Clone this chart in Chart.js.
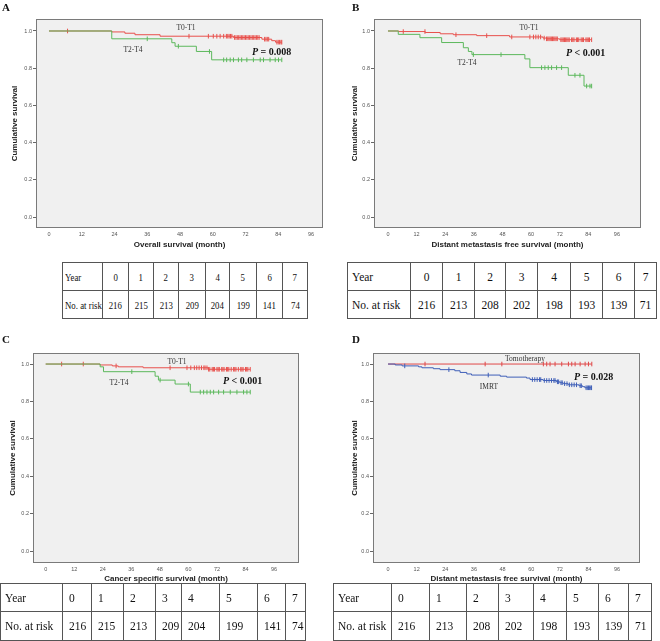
<!DOCTYPE html>
<html><head><meta charset="utf-8">
<script src="https://cdn.jsdelivr.net/npm/chart.js@4.4.1/dist/chart.umd.min.js"></script>
<style>
html,body{margin:0;padding:0;background:#fff;}
body{width:660px;height:641px;position:relative;overflow:hidden;font-family:"Liberation Serif","Times New Roman",serif;}
canvas{position:absolute;}
.lbl{position:absolute;white-space:nowrap;line-height:1;}
.letter{font-weight:bold;font-size:11px;color:#111;}
.grp{font-size:7.5px;color:#333;transform:translate(-50%,-50%);}
.pval{font-size:10px;font-weight:bold;color:#111;transform:translateY(-50%);}
table.risk{position:absolute;border-collapse:collapse;table-layout:fixed;font-size:11.5px;color:#111;}
table.risk td{border:1px solid #555;padding:0;white-space:nowrap;overflow:hidden;}
table.risk td span{display:inline-block;}
table.risk td.h{padding-left:4px;text-align:left;}
table.risk.ctr td.v{text-align:center;}
table.risk.lft td.v{text-align:left;padding-left:6px;}
table.risk.cmp{font-size:11px;}
table.risk.cmp td.h{padding-left:2px;}
table.risk.cmp td span{transform:scaleX(0.8);}
table.risk.cmp td.h span{transform-origin:left center;}
table.risk.cmp td.v span{transform-origin:center center;}
</style></head><body>
<script>
// ---------- data ----------
const monthTicks = [0, 12, 24, 36, 48, 60, 72, 84, 96];
const survTicks = [0, 0.2, 0.4, 0.6, 0.8, 1.0];
const yearLabels = ['0', '1', '2', '3', '4', '5', '6', '7'];

// Panel A – overall survival
const aLowTime = [0, 23, 27.8, 31.5, 40.7, 67.6, 78, 81.6, 83, 85.3];
const aLowSurv = [1, 0.995, 0.988, 0.98, 0.972, 0.965, 0.956, 0.948, 0.94, 0.94];
const aLowCens = [6.8, 51.3, 58.4, 60.2, 61.5, 62.7, 64, 65, 65.5, 66, 66.5, 67, 68, 68.5, 69, 69.5, 70, 70.5, 71, 71.5, 72, 72.5, 73, 73.5, 74, 74.5, 75, 75.5, 76, 76.5, 77, 79, 79.5, 80, 80.5, 83.5, 84, 84.5, 85, 85.3];
const aHighTime = [0, 23, 45, 46.2, 54, 59.6, 85.3];
const aHighSurv = [1, 0.958, 0.937, 0.918, 0.89, 0.845, 0.845];
const aHighCens = [36, 47.4, 58.8, 64, 65.1, 66.4, 67.6, 69.4, 70.6, 72.5, 74.9, 77.4, 78.6, 81, 82.9, 84.1, 85.3];
const aRisk = [216, 215, 213, 209, 204, 199, 141, 74];

// Panel B – distant metastasis free survival
const bLowTime = [0, 4.5, 15.6, 21.9, 27.4, 37.2, 51, 65, 66.5, 72, 85.4];
const bLowSurv = [1, 0.997, 0.992, 0.985, 0.98, 0.975, 0.968, 0.962, 0.958, 0.953, 0.953];
const bLowCens = [6.4, 15.5, 28.5, 41.4, 51.9, 59.5, 61, 62, 63, 64, 65.5, 66.5, 67, 67.5, 68, 68.5, 69, 69.5, 70, 70.5, 71, 72.5, 73, 73.5, 74, 74.5, 75, 75.5, 76, 77, 77.5, 78, 79, 79.5, 80, 81, 81.5, 82, 83, 83.5, 84, 84.5, 85.4];
const bHighTime = [0, 4.3, 13.4, 22.5, 31.6, 33.7, 35.2, 57.4, 59.5, 75.6, 82.2, 85.4];
const bHighSurv = [1, 0.982, 0.964, 0.938, 0.91, 0.89, 0.873, 0.85, 0.803, 0.762, 0.704, 0.704];
const bHighCens = [35.8, 47.4, 64.4, 65.8, 67.2, 68.6, 70.7, 72.8, 78.4, 80.5, 83.3, 84.7, 85.4];
const bRisk = [216, 213, 208, 202, 198, 193, 139, 71];

// Panel C – cancer specific survival
const cLowTime = [0, 22.8, 28, 30.5, 41, 68.3, 86];
const cLowSurv = [1, 0.995, 0.99, 0.985, 0.98, 0.972, 0.972];
const cLowCens = [6.7, 15.8, 29.6, 52.3, 59.4, 61, 62.5, 63.5, 64.5, 65.5, 66.5, 67, 67.8, 68.5, 69, 70, 70.5, 71, 72, 72.5, 73, 74, 74.5, 75, 76, 76.5, 77, 78, 79, 79.5, 80, 81, 82, 82.5, 83, 84, 84.5, 85, 86];
const cHighTime = [0, 22.9, 24.3, 46, 47.4, 54.4, 60.8, 86];
const cHighSurv = [1, 0.985, 0.959, 0.935, 0.914, 0.893, 0.85, 0.85];
const cHighCens = [36.2, 48.1, 60, 65, 66.4, 67.8, 69.2, 70.6, 72.7, 74.8, 77.6, 80.4, 83.2, 84.6, 86];
const cRisk = [216, 215, 213, 209, 204, 199, 141, 74];

// Panel D – distant metastasis free survival by technique
const dTomoTime = [0, 85.4];
const dTomoSurv = [1, 1];
const dTomoCens = [15.5, 40.7, 47.7, 65.1, 66.5, 67.9, 70, 72.8, 75.6, 77, 78.4, 80.5, 82.6, 84, 85.4];
const dImrtTime = [0, 3, 5.9, 12.8, 14.2, 19, 21.8, 28, 30.2, 33, 35, 47, 49.7, 58, 59.5, 65, 70.6, 72, 73.4, 75.5, 80, 81.5, 82.5, 85.3];
const dImrtSurv = [1, 0.995, 0.99, 0.985, 0.98, 0.975, 0.97, 0.964, 0.955, 0.947, 0.941, 0.935, 0.93, 0.925, 0.917, 0.912, 0.905, 0.9, 0.895, 0.889, 0.884, 0.879, 0.873, 0.873];
const dImrtCens = [7, 25.5, 42, 60.5, 61.5, 62.5, 63.5, 64, 65.5, 66.5, 67.5, 68.5, 69.5, 70, 71, 71.5, 72.5, 73, 74, 75, 76, 77, 78, 79, 80.5, 81, 83, 83.5, 84, 84.5, 85, 85.3];
const dRisk = [216, 213, 208, 202, 198, 193, 139, 71];

// ---------- helpers ----------
function survAt(times, survs, t) {
  let s = survs[0];
  for (let i = 0; i < times.length; i++) if (times[i] <= t) s = survs[i];
  return s;
}
function kmSets(times, survs, cens, color) {
  return [
    { data: times.map((t, i) => ({ x: t, y: survs[i] })), borderColor: color, borderWidth: 1,
      stepped: true, pointRadius: 0, fill: false, tension: 0 },
    { data: cens.map(t => ({ x: t, y: survAt(times, survs, t) })), showLine: false,
      pointStyle: 'line', rotation: 90, pointRadius: 2.3, borderColor: color, borderWidth: 1,
      backgroundColor: color }
  ];
}
const framePlugin = {
  id: 'frame',
  beforeDraw(chart) {
    const { ctx, chartArea: a } = chart;
    ctx.save(); ctx.fillStyle = '#f0f0f0';
    ctx.fillRect(a.left, a.top, a.right - a.left, a.bottom - a.top); ctx.restore();
  },
  afterDraw(chart) {
    const { ctx, chartArea: a } = chart;
    ctx.save(); ctx.strokeStyle = '#7a7a7a'; ctx.lineWidth = 1;
    ctx.strokeRect(Math.round(a.left) + 0.5, Math.round(a.top) + 0.5, Math.round(a.right - a.left) - 1, Math.round(a.bottom - a.top) - 1);
    ctx.restore();
  }
};

function makePanel(g, datasets, xTitle) {
  const cv = document.createElement('canvas');
  cv.width = g.w; cv.height = g.h;
  cv.style.left = g.left + 'px'; cv.style.top = g.top + 'px';
  cv.style.width = g.w + 'px'; cv.style.height = g.h + 'px';
  document.body.appendChild(cv);
  new Chart(cv, {
    type: 'line',
    data: { datasets },
    plugins: [framePlugin],
    options: {
      responsive: false, animation: false, devicePixelRatio: 1,
      layout: { padding: { left: 0, top: g.bt, right: g.w - g.br, bottom: 0 } },
      plugins: { legend: { display: false }, tooltip: { enabled: false } },
      scales: {
        x: {
          type: 'linear', min: g.xmin, max: g.xmax,
          afterBuildTicks: s => { s.ticks = monthTicks.map(v => ({ value: v })); },
          afterFit: s => { s.height = g.h - g.bb; },
          grid: { drawOnChartArea: false, drawTicks: true, tickLength: 2, color: 'rgba(0,0,0,0)' },
          border: { display: false },
          ticks: { autoSkip: false, maxRotation: 0, padding: 1, color: '#555',
                   font: { family: 'Liberation Sans', size: 5.5 } },
          title: { display: true, text: xTitle, color: '#222', padding: { top: 0, bottom: g.xtp },
                   font: { family: 'Liberation Sans', size: 8, weight: 'bold', lineHeight: 1 } }
        },
        y: {
          type: 'linear', min: g.ymin, max: g.ymax,
          afterBuildTicks: s => { s.ticks = survTicks.map(v => ({ value: v })); },
          afterFit: s => { s.width = g.bl; },
          grid: { drawOnChartArea: false, drawTicks: true, tickLength: 3, color: '#666' },
          border: { display: false },
          ticks: { autoSkip: false, padding: 1, color: '#555', callback: v => v.toFixed(1),
                   font: { family: 'Liberation Sans', size: 5.5 } },
          title: { display: true, text: 'Cumulative survival', color: '#222', padding: { top: g.ytp, bottom: 0 },
                   font: { family: 'Liberation Sans', size: 8, weight: 'bold', lineHeight: 1 } }
        }
      }
    }
  });
}

function label(cls, html, x, y) {
  const d = document.createElement('div');
  d.className = 'lbl ' + cls; d.innerHTML = html;
  d.style.left = x + 'px'; d.style.top = y + 'px';
  document.body.appendChild(d);
}

function riskTable(cls, x, y, widths, rowH, risk) {
  const t = document.createElement('table');
  t.className = 'risk ' + cls;
  t.style.left = x + 'px'; t.style.top = y + 'px';
  const total = widths.reduce((a, b) => a + b, 0);
  t.style.width = total + 'px';
  const cg = document.createElement('colgroup');
  widths.forEach(w => { const c = document.createElement('col'); c.style.width = w + 'px'; cg.appendChild(c); });
  t.appendChild(cg);
  const rows = [['Year', yearLabels], ['No. at risk', risk]];
  rows.forEach(([head, vals], ri) => {
    const tr = document.createElement('tr'); tr.style.height = rowH[ri] + 'px';
    const th = document.createElement('td'); th.className = 'h';
    const hs = document.createElement('span'); hs.textContent = head; th.appendChild(hs); tr.appendChild(th);
    vals.forEach(v => {
      const td = document.createElement('td'); td.className = 'v';
      const s = document.createElement('span'); s.textContent = v; td.appendChild(s); tr.appendChild(td);
    });
    t.appendChild(tr);
  });
  document.body.appendChild(t);
}

const RED = '#e8504c', GREEN = '#5cb85c', BLUE = '#3f5fb8', RED2 = '#e04848';

makePanel({ left: 0, top: 0, w: 330, h: 252, bl: 36, br: 323, bt: 19, bb: 228,
            xmin: -4.76, xmax: 100.4, ymin: -0.059, ymax: 1.0645, ytp: 10.5, xtp: 3 },
  [...kmSets(aHighTime, aHighSurv, aHighCens, GREEN), ...kmSets(aLowTime, aLowSurv, aLowCens, RED)],
  'Overall survival (month)');
makePanel({ left: 330, top: 0, w: 330, h: 252, bl: 44, br: 311, bt: 19, bb: 228,
            xmin: -5.87, xmax: 106.1, ymin: -0.059, ymax: 1.0645, ytp: 20.5, xtp: 3 },
  [...kmSets(bHighTime, bHighSurv, bHighCens, GREEN), ...kmSets(bLowTime, bLowSurv, bLowCens, RED)],
  'Distant metastasis free survival (month)');
makePanel({ left: 0, top: 320, w: 330, h: 265, bl: 33, br: 299, bt: 33, bb: 243,
            xmin: -5.34, xmax: 106.5, ymin: -0.064, ymax: 1.059, ytp: 9, xtp: 2 },
  [...kmSets(cHighTime, cHighSurv, cHighCens, GREEN), ...kmSets(cLowTime, cLowSurv, cLowCens, RED)],
  'Cancer specific survival (month)');
makePanel({ left: 330, top: 320, w: 330, h: 265, bl: 43, br: 310, bt: 33, bb: 243,
            xmin: -6.3, xmax: 105.6, ymin: -0.064, ymax: 1.059, ytp: 20.5, xtp: 2 },
  [...kmSets(dImrtTime, dImrtSurv, dImrtCens, BLUE), ...kmSets(dTomoTime, dTomoSurv, dTomoCens, RED2)],
  'Distant metastasis free survival (month)');

label('letter', 'A', 2, 2);
label('letter', 'B', 352, 2);
label('letter', 'C', 2, 334);
label('letter', 'D', 352, 334);

label('grp', 'T0-T1', 186, 28);
label('grp', 'T2-T4', 133, 50);
label('pval', '<i>P</i> = 0.008', 252, 52);
label('grp', 'T0-T1', 529, 28);
label('grp', 'T2-T4', 467, 63);
label('pval', '<i>P</i> &lt; 0.001', 566, 53);
label('grp', 'T0-T1', 177, 362);
label('grp', 'T2-T4', 119, 383);
label('pval', '<i>P</i> &lt; 0.001', 223, 381);
label('grp', 'Tomotherapy', 525, 359);
label('grp', 'IMRT', 489, 387);
label('pval', '<i>P</i> = 0.028', 574, 377);

riskTable('ctr cmp', 62, 262, [40, 26, 25, 25, 27, 24, 27, 26, 25], [28, 28], aRisk);
riskTable('ctr', 347, 262, [63, 32, 32, 31, 32, 33, 32, 32, 22], [28, 28], bRisk);
riskTable('lft', 0, 583, [62, 29, 32, 32, 26, 38, 38, 28, 20], [28, 29], cRisk);
riskTable('lft', 333, 583, [58, 38, 37, 32, 35, 33, 32, 30, 23], [28, 29], dRisk);
</script>
</body></html>
